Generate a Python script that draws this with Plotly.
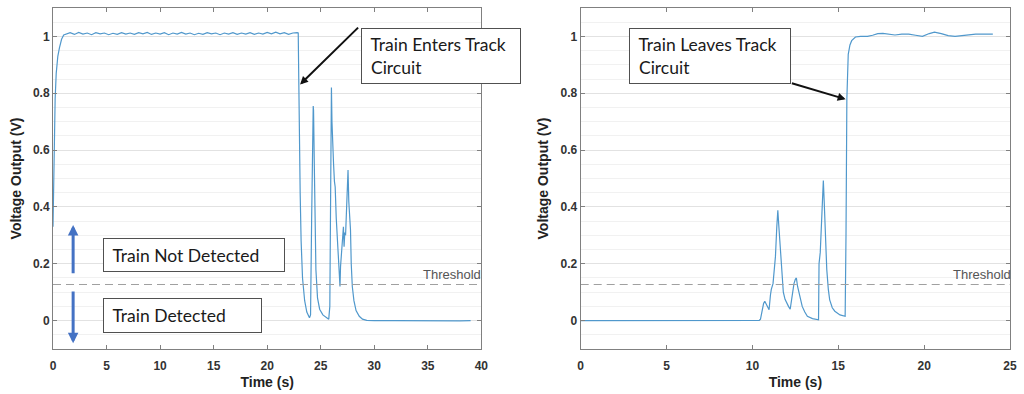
import plotly.graph_objects as go

# ---------------- data ----------------
# Left panel: train enters track circuit
left_t = [0, 0.1, 0.2, 0.3, 0.45, 0.6, 0.8, 1.0,
          1.2, 1.6, 2.0, 2.4, 2.8, 3.2, 3.6, 4.0, 4.4, 4.8, 5.2, 5.6, 6.0, 6.4, 6.8,
          7.2, 7.6, 8.0, 8.4, 8.8, 9.2, 9.6, 10.0, 10.4, 10.8, 11.2, 11.6, 12.0, 12.4,
          12.8, 13.2, 13.6, 14.0, 14.4, 14.8, 15.2, 15.6, 16.0, 16.4, 16.8, 17.2, 17.6,
          18.0, 18.4, 18.8, 19.2, 19.6, 20.0, 20.4, 20.8, 21.2, 21.6, 22.0, 22.4, 22.8,
          22.9, 22.95, 23.0, 23.08, 23.17, 23.3, 23.5, 23.7, 23.95, 24.05, 24.15, 24.25,
          24.3, 24.33, 24.4, 24.47, 24.55, 24.7, 24.9, 25.2, 25.5, 25.75, 25.85, 25.92,
          26.0, 26.05, 26.12, 26.2, 26.28, 26.35, 26.45, 26.55, 26.65, 26.75, 26.8,
          26.85, 26.92, 26.98, 27.05, 27.12, 27.18, 27.25, 27.32, 27.4, 27.48, 27.55,
          27.62, 27.7, 27.78, 27.85, 27.95, 28.1, 28.3, 28.6, 28.9, 29.3, 30, 32, 34,
          36, 38, 39]
left_v = [0.33, 0.62, 0.78, 0.87, 0.93, 0.96, 0.99, 1.005,
          1.008, 1.013, 1.007, 1.014, 1.008, 1.012, 1.006, 1.013, 1.009, 1.012, 1.006,
          1.011, 1.007, 1.013, 1.008, 1.012, 1.007, 1.013, 1.009, 1.014, 1.007, 1.012,
          1.008, 1.013, 1.006, 1.012, 1.008, 1.014, 1.008, 1.012, 1.006, 1.011, 1.007,
          1.013, 1.009, 1.012, 1.006, 1.012, 1.008, 1.013, 1.007, 1.012, 1.008, 1.013,
          1.007, 1.012, 1.008, 1.014, 1.009, 1.015, 1.009, 1.013, 1.007, 1.012, 1.013,
          1.012, 0.85, 0.65, 0.45, 0.28, 0.15, 0.07, 0.03, 0.01, 0.02, 0.35, 0.70,
          0.755, 0.74, 0.55, 0.33, 0.18, 0.08, 0.04, 0.02, 0.01, 0.005, 0.05, 0.45,
          0.82, 0.70, 0.58, 0.55, 0.49, 0.47, 0.36, 0.28, 0.20, 0.13, 0.12,
          0.19, 0.23, 0.29, 0.31, 0.33, 0.26, 0.31, 0.30, 0.38, 0.47, 0.53,
          0.42, 0.37, 0.32, 0.20, 0.12, 0.07, 0.035, 0.015, 0.005, 0.001, 0.0, 0.0, -0.001,
          0.0, -0.001, 0.0]

# Right panel: train leaves track circuit
right_t = [0, 2, 4, 6, 8, 10, 10.4, 10.47, 10.55, 10.65, 10.72, 10.8, 10.9, 10.97,
           11.05, 11.1, 11.2, 11.27, 11.34, 11.42, 11.48, 11.53, 11.6, 11.66, 11.72,
           11.8, 11.9, 12.0, 12.1, 12.2, 12.28, 12.34, 12.42, 12.5, 12.56, 12.63, 12.7,
           12.8, 12.9, 13.05, 13.2, 13.5, 13.85, 13.88, 13.95, 14.05, 14.13, 14.18,
           14.23, 14.33, 14.42, 14.5, 14.65, 14.8, 15.1, 15.4, 15.45, 15.5, 15.58,
           15.68, 15.78, 16.0, 16.3, 16.7, 17.0, 17.3, 17.6, 18.0, 18.3, 18.7, 19.1,
           19.5, 19.9, 20.3, 20.6, 21.0, 21.4, 21.8, 22.2, 22.6, 23.0, 23.5, 24.0]
right_v = [0.0, 0.0, -0.001, 0.0, 0.0, 0.0, 0.001, 0.005, 0.03, 0.06, 0.068, 0.06,
           0.045, 0.038, 0.09, 0.11, 0.13, 0.17, 0.225, 0.33, 0.388, 0.34, 0.27, 0.20,
           0.155, 0.10, 0.075, 0.06, 0.05, 0.04, 0.08, 0.11, 0.13, 0.145, 0.15, 0.12,
           0.10, 0.07, 0.05, 0.03, 0.015, 0.007, 0.003, 0.20, 0.24, 0.38, 0.493, 0.42,
           0.33, 0.18, 0.11, 0.073, 0.045, 0.033, 0.02, 0.015, 0.30, 0.78, 0.937,
           0.97, 0.985, 0.998, 1.0, 1.0, 1.004, 1.01, 1.011, 1.007, 1.005, 1.008, 1.008,
           1.004, 1.0, 1.01, 1.015, 1.01, 1.003, 1.0, 1.003, 1.006, 1.008, 1.008, 1.008]

THRESHOLD = 0.127
left_x_range = [0, 40]
right_x_range = [0, 25]
left_x_ticks = [0, 5, 10, 15, 20, 25, 30, 35, 40]
right_x_ticks = [0, 5, 10, 15, 20, 25]
y_ticks = [0, 0.2, 0.4, 0.6, 0.8, 1]
y_tick_labels = ["0", "0.2", "0.4", "0.6", "0.8", "1"]

# ---------------- figure ----------------
LINE_COLOR = "rgb(80,152,204)"
fig = go.Figure()

fig.add_trace(go.Scatter(x=left_t, y=left_v, mode="lines",
                         line=dict(color=LINE_COLOR, width=1.2),
                         xaxis="x", yaxis="y", showlegend=False))
fig.add_trace(go.Scatter(x=left_x_range, y=[THRESHOLD, THRESHOLD], mode="lines",
                         line=dict(color="#a0a0a0", width=1.2, dash="8px,5px"),
                         xaxis="x", yaxis="y", showlegend=False))
fig.add_trace(go.Scatter(x=right_t, y=right_v, mode="lines",
                         line=dict(color=LINE_COLOR, width=1.2),
                         xaxis="x2", yaxis="y2", showlegend=False))
fig.add_trace(go.Scatter(x=right_x_range, y=[THRESHOLD, THRESHOLD], mode="lines",
                         line=dict(color="#a0a0a0", width=1.2, dash="8px,5px"),
                         xaxis="x2", yaxis="y2", showlegend=False))

tickfont = dict(family="Liberation Sans, Arial", size=12, color="#333333", weight="bold")
titlefont = dict(family="Liberation Sans, Arial", size=14, color="#222222", weight="bold")
axis_common = dict(showline=True, linecolor="#808080", linewidth=1, mirror="ticks",
                   ticks="inside", ticklen=4, tickcolor="#808080", zeroline=False,
                   tickfont=tickfont)

def xaxis_cfg(domain, rng, ticks, anchor):
    return dict(domain=domain, range=rng, tickvals=ticks, showgrid=False, anchor=anchor,
                ticklabelstandoff=6,
                title=dict(text="Time (s)", font=titlefont, standoff=4), **axis_common)

def yaxis_cfg(anchor):
    return dict(domain=[0, 1], range=[-0.1, 1.1], tickvals=y_ticks, ticktext=y_tick_labels,
                showgrid=True, gridcolor="#e2e2e2", gridwidth=1, anchor=anchor,
                minor=dict(dtick=0.05, tick0=0, showgrid=True, gridcolor="#f1f1f1", ticks=""),
                title=dict(text="Voltage Output (V)", font=titlefont, standoff=8),
                **axis_common)

fig.update_layout(
    width=1024, height=394,
    margin=dict(l=53, r=8, t=7, b=45),
    paper_bgcolor="white", plot_bgcolor="white",
    xaxis=xaxis_cfg([0, 0.4476], left_x_range, left_x_ticks, "y"),
    yaxis=yaxis_cfg("x"),
    xaxis2=xaxis_cfg([0.5514, 1], right_x_range, right_x_ticks, "y2"),
    yaxis2=yaxis_cfg("x2"),
)

boxfont = dict(family="Lato, Open Sans, sans-serif", size=17.5, color="#1a1a1a")
ann = []

def textbox(xref, yref, x, y, text, w, h):
    return dict(xref=xref, yref=yref, x=x, y=y, xanchor="left", yanchor="top",
                text=text, showarrow=False, align="left", valign="middle",
                width=w, height=h, bordercolor="#505050", borderwidth=1,
                borderpad=0, bgcolor="white", font=boxfont)

# Text boxes (positioned in data coordinates)
ann.append(textbox("x", "y", 28.73, 1.029, "&nbsp;&nbsp;Train Enters Track<br>&nbsp;&nbsp;Circuit", 158, 54))
ann.append(textbox("x2", "y2", 2.82, 1.029, "&nbsp;&nbsp;Train Leaves Track<br>&nbsp;&nbsp;Circuit", 160, 54))
ann.append(textbox("x", "y", 4.67, 0.289, "&nbsp;&nbsp;Train Not Detected", 180, 32))
ann.append(textbox("x", "y", 4.67, 0.081, "&nbsp;&nbsp;Train Detected", 157, 33))

# Black arrows
ann.append(dict(xref="x", yref="y", axref="x", ayref="y", x=23.07, y=0.831, ax=28.63, ay=1.036,
                text="", showarrow=True, arrowhead=2, arrowsize=0.8, arrowwidth=2,
                arrowcolor="#111111", standoff=0, startstandoff=0))
ann.append(dict(xref="x2", yref="y2", axref="x2", ayref="y2", x=15.43, y=0.779, ax=12.21, ay=0.837,
                text="", showarrow=True, arrowhead=2, arrowsize=0.8, arrowwidth=2,
                arrowcolor="#111111", standoff=0, startstandoff=0))

# Blue arrows (detected / not detected)
ann.append(dict(xref="x", yref="y", axref="x", ayref="y", x=1.88, y=0.336, ax=1.88, ay=0.161,
                text="", showarrow=True, arrowhead=2, arrowsize=0.7, arrowwidth=3,
                arrowcolor="#4472C4"))
ann.append(dict(xref="x", yref="y", axref="x", ayref="y", x=1.88, y=-0.080, ax=1.88, ay=0.108,
                text="", showarrow=True, arrowhead=2, arrowsize=0.7, arrowwidth=3,
                arrowcolor="#4472C4"))

# Threshold labels
thr_font = dict(family="Liberation Sans, Arial", size=13, color="#555555")
ann.append(dict(xref="x", yref="y", x=39.6, y=THRESHOLD, xanchor="right", yanchor="bottom",
                xshift=6, yshift=0, text="Threshold", showarrow=False, font=thr_font))
ann.append(dict(xref="x2", yref="y2", x=24.75, y=THRESHOLD, xanchor="right", yanchor="bottom",
                xshift=7, yshift=0, text="Threshold", showarrow=False, font=thr_font))

fig.update_layout(annotations=ann)

fig.write_html("out.html", config={"displayModeBar": False},
               post_script="document.body.style.margin='0';")
